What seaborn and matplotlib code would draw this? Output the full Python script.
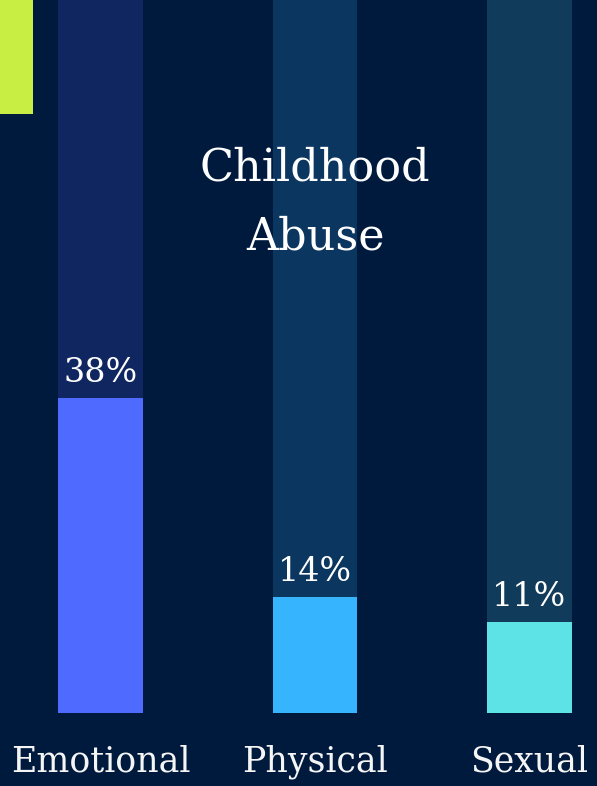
import matplotlib
matplotlib.use("Agg")
import matplotlib.pyplot as plt
import seaborn as sns
import pandas as pd
from matplotlib.patches import Rectangle

# data
categories = ["Emotional", "Physical", "Sexual"]
values = [38, 14, 11]
track = [100, 100, 100]

bg = "#001a3e"
bar_colors = ["#4f6bff", "#36b4fd", "#5de3e6"]
track_colors = ["#0f2660", "#0b3660", "#113b5a"]

sns.set_theme(style="white")
plt.rcParams['font.family'] = ['DejaVu Serif']

df = pd.DataFrame({"cat": categories, "val": values, "track": track})

fig = plt.figure(figsize=(5.97, 7.86), dpi=100, facecolor=bg)
ax = fig.add_axes([0, 73 / 786, 1, 713 / 786])
ax.set_facecolor(bg)

# background tracks (100%)
sns.barplot(data=df, x="cat", y="track", hue="cat", palette=track_colors,
            width=0.396, legend=False, ax=ax, saturation=1, linewidth=0)
# actual values
sns.barplot(data=df, x="cat", y="val", hue="cat", palette=bar_colors,
            width=0.396, legend=False, ax=ax, saturation=1, linewidth=0)

ax.set_xlim(-0.4685, 2.3147)
ax.set_ylim(0, 713 / 8.3)

for i, v in enumerate(values):
    ax.annotate(f"{v}%", (i, v), xytext=(0, 6), textcoords="offset points",
                ha="center", va="bottom", color="white", fontsize=24)

ax.set_xlabel("")
ax.set_ylabel("")
ax.set_yticks([])
ax.tick_params(axis="x", length=0, pad=23, labelsize=25, labelcolor="#f5f5f5")
for s in ax.spines.values():
    s.set_visible(False)

# title
fig.text(0.528, 0.742, "Childhood\nAbuse", ha="center", va="center",
         color="white", fontsize=32, linespacing=1.75)

# yellow-green marker top-left
fig.patches.append(Rectangle((0, 1 - 114 / 786), 33 / 597, 114 / 786,
                             transform=fig.transFigure, color="#c8ee44", lw=0))

fig.savefig("out.png", dpi=100, facecolor=bg)
